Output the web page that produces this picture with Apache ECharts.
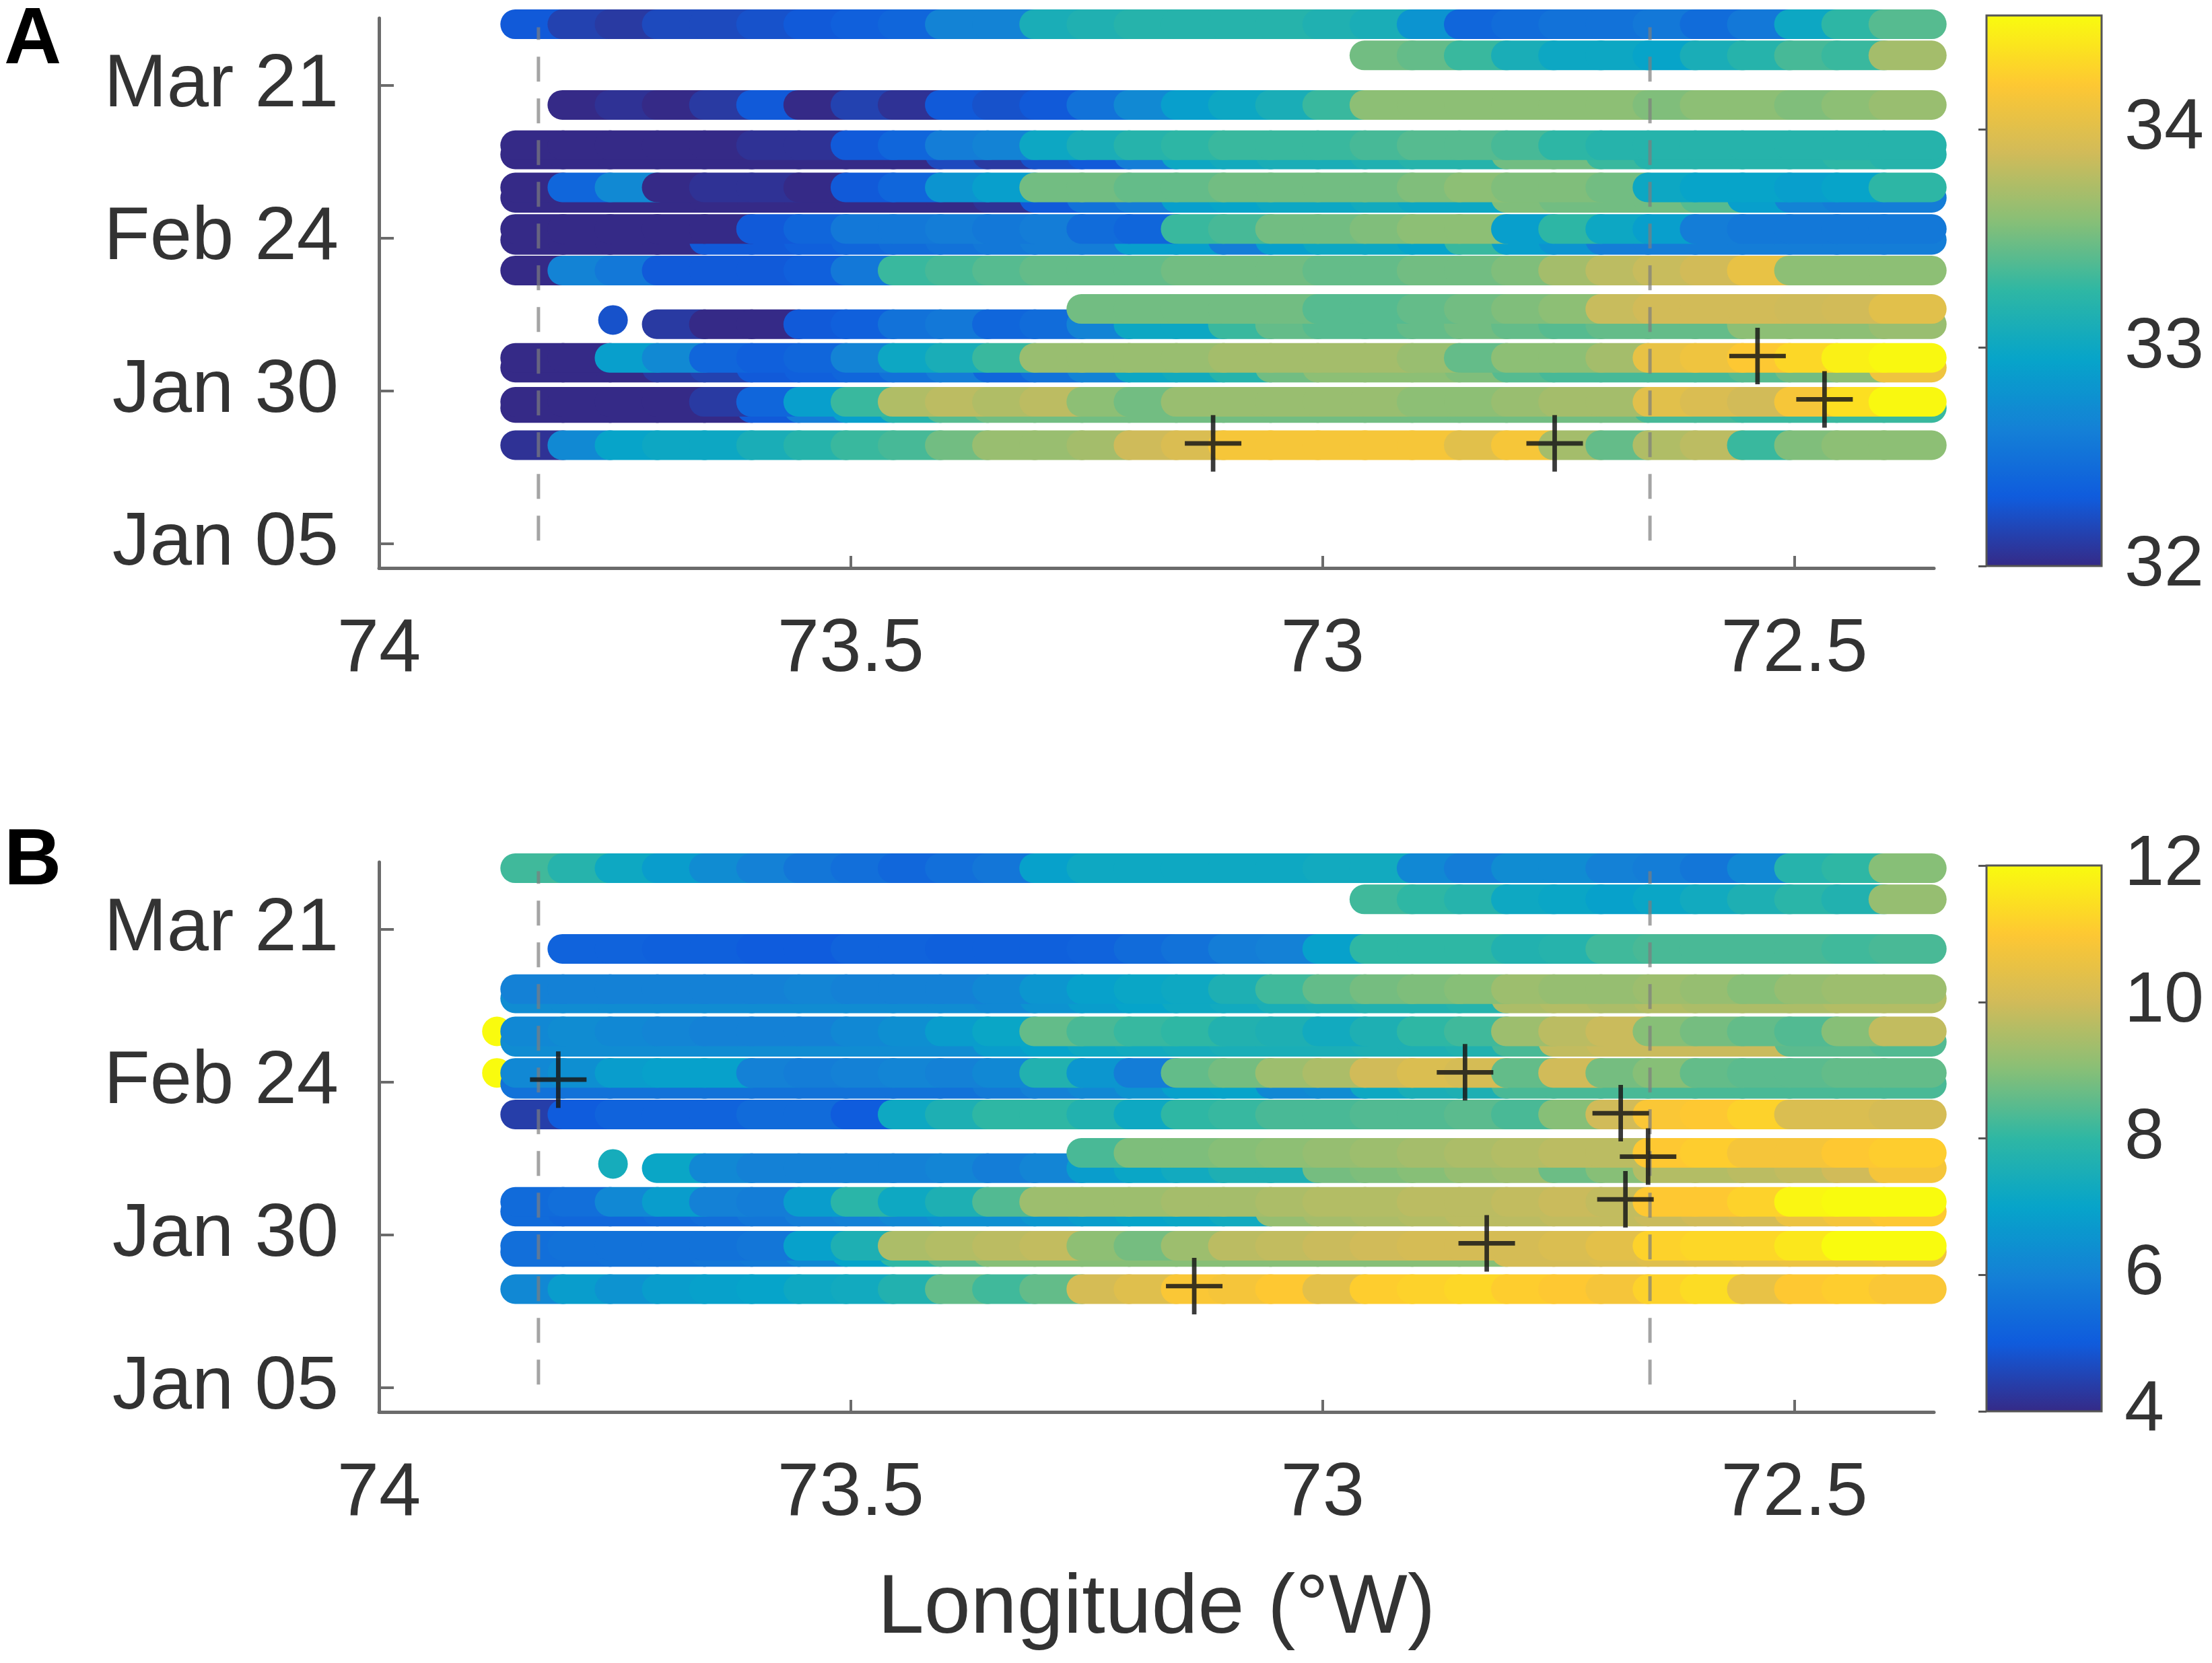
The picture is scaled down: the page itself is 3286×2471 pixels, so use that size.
<!DOCTYPE html>
<html>
<head>
<meta charset="utf-8">
<title>Glider transects</title>
<script src="https://cdn.jsdelivr.net/npm/echarts@6.0.0/dist/echarts.min.js"></script>
<style>
  html, body { margin: 0; padding: 0; background: #fff; }
  #container { width: 3286px; height: 2471px; }
</style>
</head>
<body>
<div id="container"></div>
<script>
  // longitude (deg W) of every sample along a transect, west -> east
  var lonGrid = [73.83, 73.78, 73.73, 73.68, 73.63, 73.58, 73.53, 73.48, 73.43, 73.38,
                 73.33, 73.28, 73.23, 73.18, 73.13, 73.08, 73.03, 72.98, 72.93, 72.88,
                 72.83, 72.78, 72.73, 72.68, 72.63, 72.58, 72.53, 72.48, 72.43, 72.38];

  // day of year of each transect (outbound / return passes)
  var rowDays = [90.0, 84.9, 76.8, 70.2, 68.7, 63.3, 61.6, 56.5, 54.7, 49.7, 43.4, 40.9, 35.4, 33.8, 28.2, 27.2, 21.1];

  var n = null;

  // panel A : salinity along each transect
  var salinityRows = [
    [32.3, 32.15, 32.1, 32.2, 32.2, 32.25, 32.3, 32.35, 32.4, 32.65, 32.65, 33.1, 33.15, 33.2, 33.2, 33.2, 33.2, 33.15, 33.1, 32.8, 32.4, 32.45, 32.5, 32.5, 32.55, 32.45, 32.55, 33.0, 33.25, 33.4],
    [n, n, n, n, n, n, n, n, n, n, n, n, n, n, n, n, n, n, 33.5, 33.45, 33.3, 33.1, 33.0, 33.0, 32.95, 33.1, 33.2, 33.35, 33.3, 33.7],
    [n, 32.0, 32.05, 32.0, 32.1, 32.3, 32.0, 32.15, 32.05, 32.3, 32.25, 32.3, 32.5, 32.7, 32.9, 33.0, 33.1, 33.3, 33.6, 33.6, 33.6, 33.6, 33.6, 33.6, 33.55, 33.6, 33.6, 33.55, 33.6, 33.65],
    [32.0, 32.0, 32.0, 32.0, 32.0, 32.05, 32.05, 32.3, 32.4, 32.6, 32.65, 33.0, 33.1, 33.2, 33.25, 33.3, 33.3, 33.3, 33.35, 33.4, 33.4, 33.35, 33.25, 33.2, 33.2, 33.2, 33.2, 33.2, 33.2, 33.2],
    [32.0, 32.0, 32.0, 32.0, 32.0, 32.0, 32.0, 32.0, 32.0, 32.2, 32.1, 32.25, 32.3, 32.6, 33.0, 33.05, 33.1, 33.1, 33.15, 33.2, 33.2, 33.5, 33.5, 33.3, 33.2, 33.2, 33.2, 33.2, 33.25, 33.2],
    [32.0, 32.4, 32.7, 32.0, 32.05, 32.05, 32.0, 32.3, 32.4, 32.8, 32.9, 33.5, 33.5, 33.45, 33.45, 33.5, 33.5, 33.5, 33.5, 33.55, 33.6, 33.55, 33.55, 33.5, 33.0, 32.95, 32.95, 32.9, 32.95, 33.25],
    [32.0, 32.0, 32.0, 32.0, 32.0, 32.0, 32.0, 32.0, 32.0, 32.0, 32.05, 32.3, 32.5, 32.6, 32.9, 32.95, 33.0, 33.0, 33.05, 33.0, 33.0, 33.55, 33.5, 33.5, 33.5, 33.4, 32.9, 32.65, 32.6, 32.6],
    [32.0, 32.0, 32.0, 32.0, 32.0, 32.3, 32.4, 32.55, 32.55, 32.6, 32.55, 32.6, 32.45, 32.4, 33.3, 33.35, 33.5, 33.5, 33.55, 33.6, 33.6, 32.9, 33.25, 33.0, 32.9, 32.6, 32.55, 32.55, 32.55, 32.55],
    [32.0, 32.0, 32.0, 32.0, 32.3, 32.3, 32.35, 32.4, 32.45, 32.5, 32.55, 32.6, 32.6, 32.9, 32.9, 32.6, 32.9, 33.0, 33.0, 32.95, 33.3, 32.9, 32.8, 32.6, 32.6, 32.6, 32.6, 32.6, 32.6, 32.6],
    [32.0, 32.65, 32.55, 32.3, 32.3, 32.3, 32.35, 32.55, 33.3, 33.35, 33.4, 33.45, 33.45, 33.45, 33.5, 33.5, 33.5, 33.45, 33.45, 33.5, 33.5, 33.55, 33.7, 33.8, 33.85, 33.9, 34.05, 33.6, 33.6, 33.6],
    [n, n, n, n, n, n, n, n, n, n, n, n, 33.5, 33.5, 33.5, 33.5, 33.5, 33.4, 33.4, 33.45, 33.5, 33.55, 33.6, 33.85, 33.9, 33.9, 33.9, 33.88, 33.9, 34.0],
    [n, n, n, 32.1, 32.0, 32.0, 32.3, 32.35, 32.5, 32.55, 32.4, 32.45, 32.65, 33.0, 33.0, 33.3, 33.45, 33.4, 33.4, 33.45, 33.5, 33.45, 33.4, 33.45, 33.45, 33.45, 33.6, 33.6, 33.6, 33.65],
    [32.0, 32.0, 32.9, 32.7, 32.4, 32.35, 32.4, 32.65, 33.0, 33.1, 33.3, 33.65, 33.65, 33.65, 33.65, 33.7, 33.7, 33.7, 33.7, 33.65, 33.45, 33.6, 33.6, 33.7, 34.05, 34.1, 34.2, 34.3, 34.45, 34.5],
    [32.0, 32.0, 32.0, 32.1, 32.15, 32.3, 32.35, 32.4, 32.5, 32.6, 32.4, 32.5, 32.65, 33.0, 33.05, 33.2, 33.5, 33.6, 33.6, 33.6, 33.55, 33.4, 33.35, 33.35, 33.35, 33.35, 33.4, 33.5, 33.6, 34.1],
    [32.0, 32.0, 32.0, 32.0, 32.1, 32.4, 32.9, 33.3, 33.75, 33.8, 33.75, 33.8, 33.6, 33.5, 33.65, 33.65, 33.65, 33.65, 33.65, 33.6, 33.6, 33.65, 33.7, 33.7, 34.0, 33.95, 33.9, 34.15, 34.35, 34.5],
    [32.0, 32.0, 32.0, 32.0, 32.0, 32.3, 32.6, 32.9, 33.2, 33.4, 33.5, 33.5, 33.5, 33.5, 33.5, 33.5, 33.5, 33.5, 33.5, 33.5, 33.5, 33.5, 33.5, 33.5, 33.35, 33.35, 33.3, 33.3, 33.3, 33.3],
    [32.05, 32.7, 32.95, 33.0, 33.0, 33.1, 33.2, 33.3, 33.35, 33.5, 33.65, 33.65, 33.7, 33.88, 33.95, 34.15, 34.15, 34.15, 34.15, 34.15, 34.0, 34.15, 33.7, 33.45, 33.75, 33.8, 33.3, 33.55, 33.6, 33.6]
  ];

  // panel B : second variable along the same transects
  var tempRows = [
    [8.2, 7.8, 7.2, 6.8, 6.3, 6.0, 5.7, 5.5, 5.3, 5.5, 5.7, 6.9, 7.2, 7.2, 7.2, 7.2, 7.2, 7.3, 7.3, 6.2, 5.9, 6.3, 6.3, 6.0, 5.9, 5.7, 6.2, 7.8, 8.0, 9.0],
    [n, n, n, n, n, n, n, n, n, n, n, n, n, n, n, n, n, n, 8.2, 8.0, 7.8, 7.2, 7.1, 6.9, 7.1, 7.3, 7.6, 7.9, 7.7, 9.2],
    [n, 5.2, 5.2, 5.1, 5.1, 5.0, 5.0, 5.2, 5.2, 5.1, 5.1, 5.1, 5.2, 5.4, 5.6, 5.9, 6.0, 6.9, 8.0, 8.0, 8.0, 7.7, 7.8, 8.2, 8.3, 8.3, 8.3, 8.3, 8.2, 8.3],
    [6.0, 6.0, 6.0, 6.0, 6.0, 6.0, 6.1, 6.0, 6.0, 6.0, 6.2, 6.6, 6.9, 7.1, 7.2, 7.6, 8.2, 8.6, 8.8, 8.9, 9.0, 9.3, 9.2, 9.2, 9.3, 9.2, 9.0, 9.2, 9.3, 9.3],
    [6.3, 6.3, 6.3, 6.3, 6.3, 6.3, 6.3, 6.3, 6.3, 6.3, 6.2, 6.5, 6.8, 7.0, 7.2, 7.3, 7.5, 7.6, 7.7, 7.7, 7.8, 9.5, 9.6, 9.5, 9.6, 9.5, 9.5, 9.5, 9.6, 9.6],
    [6.2, 6.3, 6.2, 6.1, 6.0, 6.0, 6.0, 6.2, 6.4, 6.8, 7.1, 8.6, 8.3, 8.1, 8.0, 7.7, 7.6, 7.3, 7.6, 8.0, 8.2, 9.3, 9.7, 9.9, 9.0, 8.8, 8.6, 8.4, 9.0, 9.8],
    [6.3, 6.3, 6.3, 6.3, 6.3, 6.3, 6.3, 6.3, 6.3, 6.3, 6.8, 7.0, 7.2, 7.3, 7.4, 7.5, 7.5, 7.5, 7.6, 7.6, 7.7, 8.3, 9.8, 9.9, 9.9, 9.9, 9.9, 8.5, 8.5, 8.4],
    [6.2, 6.4, 6.8, 6.9, 6.9, 6.0, 5.9, 6.0, 6.1, 6.0, 6.2, 7.7, 6.6, 5.9, 8.6, 8.8, 9.3, 9.5, 10.0, 10.2, 10.1, 8.6, 10.0, 8.8, 9.0, 8.6, 8.5, 8.5, 8.6, 8.6],
    [5.6, 5.6, 5.6, 5.6, 5.6, 5.6, 5.6, 5.6, 5.6, 5.6, 5.8, 6.0, 6.2, 6.5, 6.9, 7.0, 6.2, 6.3, 7.2, 7.5, 7.6, 8.3, 8.3, 8.3, 8.3, 8.3, 8.3, 8.3, 8.3, 8.3],
    [4.4, 5.0, 5.2, 5.2, 5.2, 5.4, 5.4, 5.0, 7.2, 7.6, 8.0, 8.0, 7.7, 7.2, 8.0, 8.1, 8.3, 8.3, 8.4, 8.4, 8.5, 8.3, 9.0, 10.0, 10.9, 11.0, 11.2, 10.2, 10.2, 10.1],
    [n, n, n, n, n, n, n, n, n, n, n, n, 8.3, 8.9, 8.9, 9.0, 9.1, 9.2, 9.3, 9.4, 9.5, 9.6, 9.7, 9.7, 11.0, 11.1, 10.8, 10.8, 11.0, 11.1],
    [n, n, n, 7.1, 6.2, 6.0, 6.0, 6.0, 6.0, 6.1, 5.9, 6.1, 6.8, 7.1, 7.3, 7.6, 7.6, 8.8, 8.9, 9.0, 9.2, 9.3, 8.7, 9.0, 9.6, 9.6, 9.7, 9.8, 10.0, 10.8],
    [5.4, 5.5, 6.2, 6.8, 6.0, 5.9, 6.8, 7.9, 7.2, 7.6, 8.4, 9.3, 9.3, 9.3, 9.4, 9.4, 9.5, 9.6, 9.6, 9.7, 9.7, 9.8, 9.9, 9.8, 11.0, 11.0, 11.2, 11.9, 12.0, 12.0],
    [5.4, 5.3, 5.3, 5.4, 5.5, 5.7, 5.9, 6.0, 6.2, 6.4, 6.4, 6.6, 6.8, 7.0, 7.1, 7.3, 9.2, 9.4, 9.5, 9.6, 9.7, 9.7, 9.8, 9.8, 9.9, 10.0, 10.1, 10.6, 10.8, 11.0],
    [5.5, 5.6, 5.6, 5.6, 5.6, 5.7, 6.9, 7.6, 9.5, 9.6, 9.7, 9.8, 9.1, 8.8, 9.3, 9.7, 9.8, 9.9, 10.0, 10.1, 10.1, 10.1, 10.2, 10.4, 11.2, 11.3, 11.3, 11.6, 12.0, 12.0],
    [5.5, 5.5, 5.6, 5.6, 5.7, 5.8, 6.2, 7.0, 8.0, 8.5, 9.0, 9.0, 9.0, 9.0, 9.0, 9.0, 9.0, 9.0, 9.0, 9.0, 9.0, 10.1, 10.1, 10.2, 10.3, 10.4, 10.5, 10.6, 10.6, 10.7],
    [6.2, 6.8, 6.5, 6.8, 6.9, 7.0, 7.2, 7.3, 7.7, 8.6, 8.2, 8.6, 10.1, 10.3, 10.9, 10.8, 11.0, 10.4, 11.1, 11.2, 11.3, 11.1, 11.0, 10.8, 11.2, 11.4, 10.5, 11.0, 11.1, 10.9]
  ];

  // single samples off the transect lines: [lon, day, value]
  var spotsA = [[73.752, 41.6, 32.25]];
  var spotsB = [[73.752, 41.6, 7.4], [73.875, 63.3, 12.0], [73.875, 56.5, 12.0]];

  // + markers: [lon, day]
  var crossA = [[73.116, 21.4], [72.754, 21.4], [72.539, 35.7], [72.468, 28.6]];
  var crossB = [[73.81, 55.4], [72.849, 56.6], [72.826, 28.6], [73.136, 21.6], [72.684, 49.9], [72.655, 42.8], [72.679, 35.8]];

  // dashed reference longitudes
  var dashLon = [73.831, 72.653];
  var dashDays = [5.5, 89.5];

  // axis ticks
  var xTicks = [74, 73.5, 73, 72.5];
  var xTickLabels = ['74', '73.5', '73', '72.5'];
  var dayTicks = [5, 30, 55, 80];
  var dayTickLabels = ['Jan 05', 'Jan 30', 'Feb 24', 'Mar 21'];
  var cbTicksA = [32, 33, 34];
  var cbTicksB = [4, 6, 8, 10, 12];

  var parula = ['#352a87', '#0f5cdd', '#1481d6', '#06a4ca', '#2eb7a4', '#87bf77', '#d1bb59', '#fec832', '#f9fb0e'];

  var FONT = 'Liberation Sans, Arial, Helvetica, sans-serif';
  var AXIS_GREY = '#6b6b6b';
  var capsule = 'path://M22,0H94A22,22,0,0,1,94,44H22A22,22,0,0,1,22,0Z';
  var plus = 'path://M46,0H54V46H100V54H54V100H46V54H0V46H46Z';

  function buildPoints (rows, spots) {
    var out = [];
    spots.forEach(function (s) {
      out.push({value: s, symbol: 'circle', symbolSize: 44});
    });
    var order = rowDays.map(function (d, i) { return i; });
    order.sort(function (a, b) { return rowDays[a] - rowDays[b]; });
    order.forEach(function (r) {
      rows[r].forEach(function (v, i) {
        if (v !== null) out.push([lonGrid[i], rowDays[r], v]);
      });
    });
    return out;
  }

  function mainX (gi, withName) {
    var ax = {
      gridIndex: gi, type: 'value', min: 72.352, max: 74, inverse: true,
      axisLine: {show: true, onZero: false, lineStyle: {color: AXIS_GREY, width: 5}},
      axisTick: {show: true, inside: true, length: 18, customValues: xTicks, lineStyle: {color: AXIS_GREY, width: 4}},
      axisLabel: {
        customValues: xTicks, margin: 66, fontSize: 112, color: '#333', fontFamily: FONT,
        formatter: function (v) { var i = xTicks.indexOf(v); return i >= 0 ? xTickLabels[i] : ''; }
      },
      splitLine: {show: false}
    };
    if (withName) {
      ax.name = 'Longitude (\u00B0W)';
      ax.nameLocation = 'middle';
      ax.nameGap = 232;
      ax.nameTextStyle = {fontSize: 124, color: '#333', fontFamily: FONT};
    }
    return ax;
  }

  function mainY (gi) {
    return {
      gridIndex: gi, type: 'value', min: 1, max: 91,
      axisLine: {show: true, onZero: false, lineStyle: {color: AXIS_GREY, width: 5}},
      axisTick: {show: true, inside: true, length: 22, customValues: dayTicks, lineStyle: {color: AXIS_GREY, width: 4}},
      axisLabel: {
        customValues: dayTicks, margin: 60, fontSize: 112, color: '#333', fontFamily: FONT,
        padding: [12, 0, 0, 0],
        formatter: function (v) { var i = dayTicks.indexOf(v); return i >= 0 ? dayTickLabels[i] : ''; }
      },
      splitLine: {show: false}
    };
  }

  function cbY (gi, min, max, ticks) {
    return {
      gridIndex: gi, type: 'value', min: min, max: max, position: 'right',
      axisLine: {show: false},
      axisTick: {show: true, inside: true, length: 12, customValues: ticks, lineStyle: {color: '#555', width: 3}},
      axisLabel: {customValues: ticks, margin: 34, fontSize: 106, color: '#333', fontFamily: FONT, padding: [24, 0, 0, 0]},
      splitLine: {show: false}
    };
  }

  function dashSeries (gi, lon) {
    return {
      type: 'line', xAxisIndex: gi, yAxisIndex: gi, silent: true, symbol: 'none', z: 3,
      lineStyle: {color: 'rgba(125,125,125,0.7)', width: 5, type: [37, 25]},
      data: dashDays.map(function (d) { return [lon, d]; })
    };
  }

  function crossSeries (gi, pts) {
    return {
      type: 'scatter', xAxisIndex: gi, yAxisIndex: gi, silent: true, z: 4,
      symbol: plus, symbolSize: 84,
      itemStyle: {color: 'rgba(25,25,25,0.85)', opacity: 1},
      data: pts
    };
  }

  var dom = document.getElementById('container');
  var myChart = echarts.init(dom, null, {renderer: 'canvas'});

  var option = {
    backgroundColor: '#ffffff',
    animation: false,
    grid: [
      {left: 563, top: 27, width: 2310, height: 817},
      {left: 563, top: 1281, width: 2310, height: 817},
      {left: 2951, top: 23, width: 171, height: 818, show: true, z: 10, backgroundColor: 'transparent', borderColor: '#555', borderWidth: 3},
      {left: 2951, top: 1286, width: 171, height: 811, show: true, z: 10, backgroundColor: 'transparent', borderColor: '#555', borderWidth: 3}
    ],
    xAxis: [
      mainX(0, false),
      mainX(1, true),
      {gridIndex: 2, type: 'value', show: false},
      {gridIndex: 3, type: 'value', show: false}
    ],
    yAxis: [
      mainY(0),
      mainY(1),
      cbY(2, 32, 34.52, cbTicksA),
      cbY(3, 4, 12, cbTicksB)
    ],
    visualMap: [
      {
        type: 'continuous', seriesIndex: 0, dimension: 2, min: 32, max: 34.52,
        left: 2951, top: 23, itemWidth: 171, itemHeight: 818, padding: 0,
        calculable: false, hoverLink: false, text: null,
        inRange: {color: parula}
      },
      {
        type: 'continuous', seriesIndex: 1, dimension: 2, min: 4, max: 12,
        left: 2951, top: 1286, itemWidth: 171, itemHeight: 811, padding: 0,
        calculable: false, hoverLink: false, text: null,
        inRange: {color: parula}
      }
    ],
    graphic: [
      {type: 'text', left: 6, top: 2, style: {text: 'A', fontSize: 118, fontWeight: 'bold', fill: '#000', fontFamily: FONT}},
      {type: 'text', left: 6, top: 1222, style: {text: 'B', fontSize: 118, fontWeight: 'bold', fill: '#000', fontFamily: FONT}}
    ],
    series: [
      {
        type: 'scatter', xAxisIndex: 0, yAxisIndex: 0, silent: true, z: 2,
        symbol: capsule, symbolSize: [116, 44],
        itemStyle: {opacity: 1},
        data: buildPoints(salinityRows, spotsA)
      },
      {
        type: 'scatter', xAxisIndex: 1, yAxisIndex: 1, silent: true, z: 2,
        symbol: capsule, symbolSize: [116, 44],
        itemStyle: {opacity: 1},
        data: buildPoints(tempRows, spotsB)
      },
      dashSeries(0, dashLon[0]),
      dashSeries(0, dashLon[1]),
      dashSeries(1, dashLon[0]),
      dashSeries(1, dashLon[1]),
      crossSeries(0, crossA),
      crossSeries(1, crossB)
    ]
  };

  myChart.setOption(option);
</script>
</body>
</html>
